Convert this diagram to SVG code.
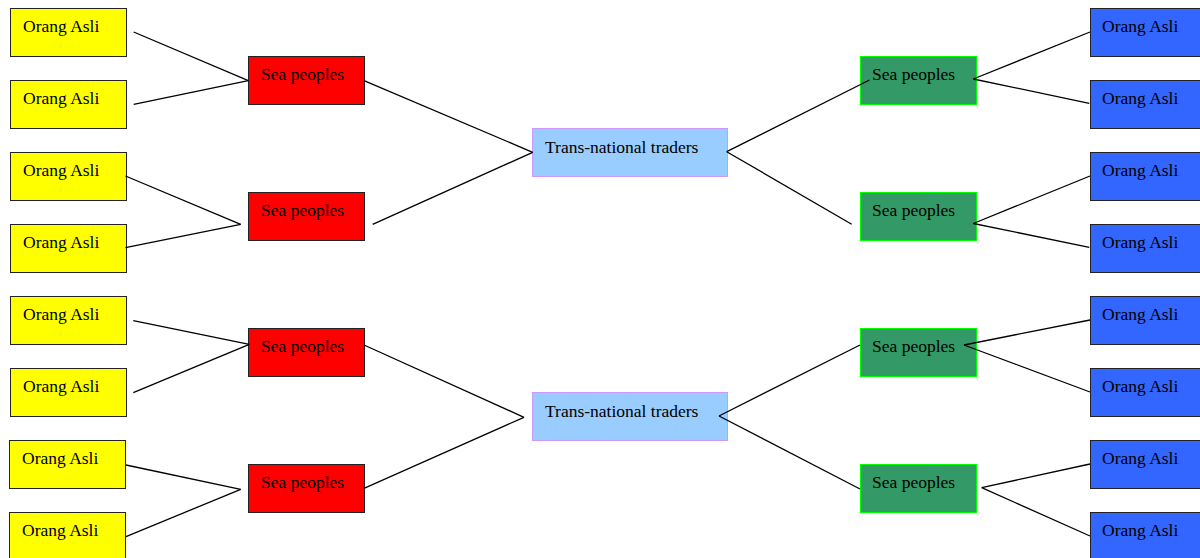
<svg xmlns="http://www.w3.org/2000/svg" width="1200" height="558" viewBox="0 0 1200 558">
<style>
.y{fill:#ffff00;stroke:#222;stroke-width:1}
.r{fill:#ff0000;stroke:#222;stroke-width:1}
.t{fill:#99ccff;stroke:#cc99ff;stroke-width:1}
.g{fill:#339966;stroke:#00ff00;stroke-width:1}
.b{fill:#3366ff;stroke:#222;stroke-width:1}
text{font-family:"Liberation Serif","Times New Roman",serif;font-size:17.5px;fill:#000}
.c line{stroke:#000;stroke-width:1.3}
</style>
<rect width="1200" height="558" fill="#fff"/>
<g id="oa1"><rect class="y" x="10.5" y="8.5" width="116" height="48"/><text x="23" y="31.5">Orang Asli</text></g>
<g id="oa2"><rect class="y" x="10.5" y="80.5" width="116" height="48"/><text x="23" y="103.5">Orang Asli</text></g>
<g id="oa3"><rect class="y" x="10.5" y="152.5" width="116" height="48"/><text x="23" y="175.5">Orang Asli</text></g>
<g id="oa4"><rect class="y" x="10.5" y="224.5" width="116" height="48"/><text x="23" y="247.5">Orang Asli</text></g>
<g id="oa5"><rect class="y" x="10.5" y="296.5" width="116" height="48"/><text x="23" y="319.5">Orang Asli</text></g>
<g id="oa6"><rect class="y" x="10.5" y="368.5" width="116" height="48"/><text x="23" y="391.5">Orang Asli</text></g>
<g id="oa7"><rect class="y" x="9.5" y="440.5" width="116" height="48"/><text x="22" y="463.5">Orang Asli</text></g>
<g id="oa8"><rect class="y" x="9.5" y="512.5" width="116" height="48"/><text x="22" y="535.5">Orang Asli</text></g>
<g id="sp1"><rect class="r" x="248.5" y="56.5" width="116" height="48"/><text x="261" y="79.5">Sea peoples</text></g>
<g id="sp2"><rect class="r" x="248.5" y="192.5" width="116" height="48"/><text x="261" y="215.5">Sea peoples</text></g>
<g id="sp3"><rect class="r" x="248.5" y="328.5" width="116" height="48"/><text x="261" y="351.5">Sea peoples</text></g>
<g id="sp4"><rect class="r" x="248.5" y="464.5" width="116" height="48"/><text x="261" y="487.5">Sea peoples</text></g>
<g id="tt1"><rect class="t" x="532.5" y="128.5" width="195" height="48"/><text x="545" y="152.5">Trans-national traders</text></g>
<g id="tt2"><rect class="t" x="532.5" y="392.5" width="195" height="48"/><text x="545" y="416.5">Trans-national traders</text></g>
<g id="gp1"><rect class="g" x="860.5" y="56.5" width="116" height="48"/><text x="872" y="79.5">Sea peoples</text></g>
<g id="gp2"><rect class="g" x="860.5" y="192.5" width="116" height="48"/><text x="872" y="215.5">Sea peoples</text></g>
<g id="gp3"><rect class="g" x="860.5" y="328.5" width="116" height="48"/><text x="872" y="351.5">Sea peoples</text></g>
<g id="gp4"><rect class="g" x="860.5" y="464.5" width="116" height="48"/><text x="872" y="487.5">Sea peoples</text></g>
<g id="ob1"><rect class="b" x="1090.5" y="8.5" width="116" height="48"/><text x="1102" y="31.5">Orang Asli</text></g>
<g id="ob2"><rect class="b" x="1090.5" y="80.5" width="116" height="48"/><text x="1102" y="103.5">Orang Asli</text></g>
<g id="ob3"><rect class="b" x="1090.5" y="152.5" width="116" height="48"/><text x="1102" y="175.5">Orang Asli</text></g>
<g id="ob4"><rect class="b" x="1090.5" y="224.5" width="116" height="48"/><text x="1102" y="247.5">Orang Asli</text></g>
<g id="ob5"><rect class="b" x="1090.5" y="296.5" width="116" height="48"/><text x="1102" y="319.5">Orang Asli</text></g>
<g id="ob6"><rect class="b" x="1090.5" y="368.5" width="116" height="48"/><text x="1102" y="391.5">Orang Asli</text></g>
<g id="ob7"><rect class="b" x="1090.5" y="440.5" width="116" height="48"/><text x="1102" y="463.5">Orang Asli</text></g>
<g id="ob8"><rect class="b" x="1090.5" y="512.5" width="116" height="48"/><text x="1102" y="535.5">Orang Asli</text></g>
<g id="connectors" class="c">
<line x1="133.7" y1="32" x2="248.3" y2="80.7"/>
<line x1="133.7" y1="104.3" x2="248.3" y2="80.7"/>
<line x1="125.5" y1="176" x2="240.7" y2="224.3"/>
<line x1="125.5" y1="247.7" x2="240.7" y2="224.3"/>
<line x1="364" y1="80.7" x2="532.7" y2="152.3"/>
<line x1="372.7" y1="224.3" x2="532.7" y2="152.3"/>
<line x1="726.7" y1="151.7" x2="869.5" y2="80"/>
<line x1="726.7" y1="151.7" x2="851.7" y2="224.3"/>
<line x1="973.3" y1="79" x2="1090" y2="32"/>
<line x1="973.3" y1="79" x2="1089.3" y2="103.3"/>
<line x1="973.3" y1="223.5" x2="1090" y2="176"/>
<line x1="973.3" y1="223.5" x2="1089.3" y2="247.3"/>
<line x1="133.3" y1="320.7" x2="249.3" y2="344.3"/>
<line x1="133.3" y1="392.7" x2="249.3" y2="344.3"/>
<line x1="126" y1="465" x2="240.7" y2="489.3"/>
<line x1="126" y1="536.7" x2="240.7" y2="489.3"/>
<line x1="364" y1="345" x2="524" y2="417.3"/>
<line x1="364" y1="488.3" x2="524" y2="417.3"/>
<line x1="719" y1="416" x2="860" y2="345"/>
<line x1="719" y1="416" x2="860" y2="489"/>
<line x1="964" y1="345" x2="1090" y2="320"/>
<line x1="964" y1="345" x2="1090" y2="392"/>
<line x1="981.7" y1="487.7" x2="1090" y2="464"/>
<line x1="981.7" y1="487.7" x2="1090" y2="536"/>
</g>
</svg>
